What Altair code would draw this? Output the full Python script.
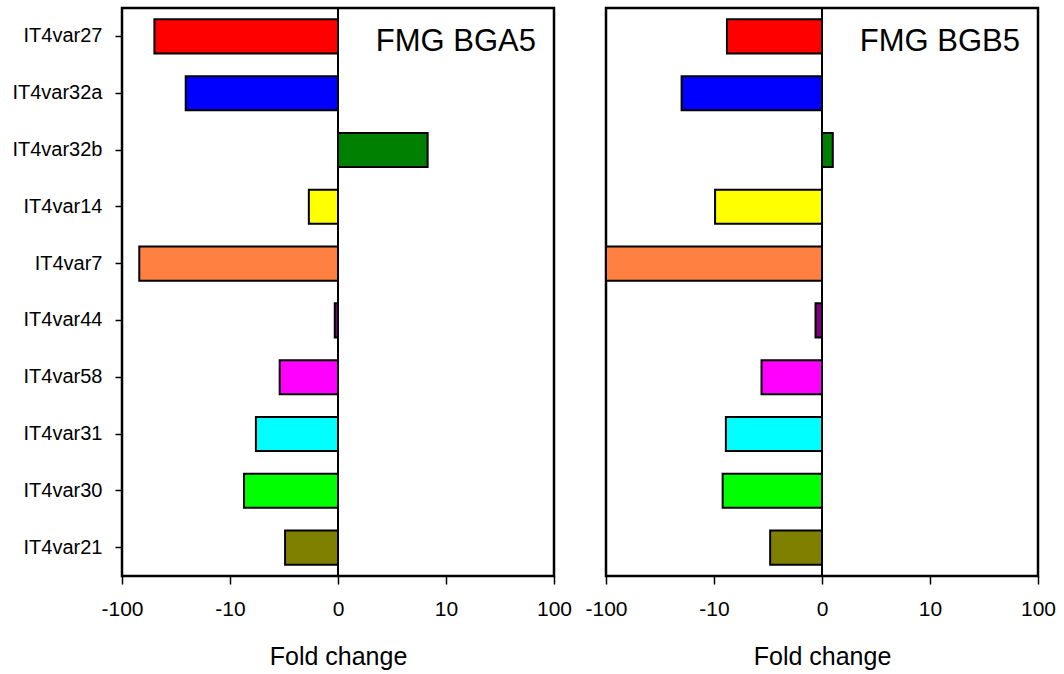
import altair as alt
import pandas as pd

# Genes, top to bottom
genes = ["IT4var27", "IT4var32a", "IT4var32b", "IT4var14", "IT4var7",
         "IT4var44", "IT4var58", "IT4var31", "IT4var30", "IT4var21"]
bar_colors = ["#FF0000", "#0000FF", "#008000", "#FFFF00", "#FF8040",
              "#800080", "#FF00FF", "#00FFFF", "#00FF00", "#808000"]

# Signed log10 fold change for each gene (one decade per axis step)
log_fc_bga5 = [-1.70, -1.41, 0.83, -0.27, -1.84, -0.03, -0.54, -0.76, -0.87, -0.49]
log_fc_bgb5 = [-0.88, -1.30, 0.10, -0.99, -2.00, -0.06, -0.56, -0.89, -0.92, -0.48]

tick_positions = [-2, -1, 0, 1, 2]
tick_labels = ["-100", "-10", "0", "10", "100"]

FONT = "Liberation Sans"
PANEL_W = 432
PANEL_H = 568

label_expr = "[" + ",".join(f"'{t}'" for t in tick_labels) + "][datum.value + 2]"


def panel(name, values, show_y):
    df = pd.DataFrame({"gene": genes, "value": values})
    base = alt.Chart(df)

    if show_y:
        y_axis = alt.Axis(
            title=None, domain=False, grid=False,
            tickSize=7, tickColor="black", tickWidth=1.5,
            labelFont=FONT, labelFontSize=20, labelColor="black", labelPadding=13,
            minExtent=116, maxExtent=116,
        )
    else:
        y_axis = None
    x_axis = alt.Axis(
        title="Fold change", values=tick_positions, labelExpr=label_expr,
        domain=False, grid=False, tickSize=8, tickColor="black", tickWidth=1.5,
        labelFont=FONT, labelFontSize=21, labelColor="black", labelPadding=14,
        labelFlush=False, labelOverlap=False,
        titleFont=FONT, titleFontSize=25, titleFontWeight="normal",
        titleColor="black", titlePadding=25,
    )

    bars = base.mark_bar(stroke="black", strokeWidth=2).encode(
        x=alt.X("value:Q", scale=alt.Scale(domain=[-2, 2], nice=False), axis=x_axis, stack=None),
        y=alt.Y("gene:N", sort=genes, axis=y_axis,
                scale=alt.Scale(paddingInner=0.4, paddingOuter=0.2)),
        color=alt.Color("gene:N", scale=alt.Scale(domain=genes, range=bar_colors), legend=None),
    )

    zero = alt.Chart(pd.DataFrame({"x": [0]})).mark_rule(color="black", strokeWidth=2).encode(
        x="x:Q"
    )

    label = alt.Chart(pd.DataFrame({"t": [name]})).mark_text(
        align="right", baseline="alphabetic", font=FONT, fontSize=31, color="black"
    ).encode(text="t:N", x=alt.value(PANEL_W - 18), y=alt.value(43))

    return alt.layer(bars, zero, label).properties(width=PANEL_W, height=PANEL_H)


chart = alt.hconcat(
    panel("FMG BGA5", log_fc_bga5, True),
    panel("FMG BGB5", log_fc_bgb5, False),
    spacing=52,
    bounds="flush",
).properties(
    padding={"left": 4, "top": 5, "right": 5, "bottom": 5},
    background="white",
).configure_view(
    stroke="black", strokeWidth=2.5
)

chart.save("out.html", embed_options={"renderer": "svg", "actions": False})
